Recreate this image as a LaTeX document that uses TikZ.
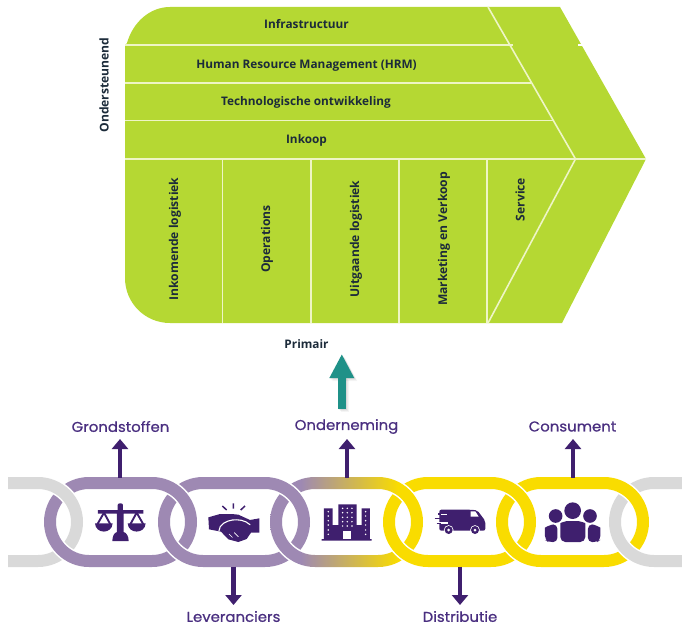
\documentclass[tikz,border=0pt]{standalone}
\usepackage{fontspec}
\usetikzlibrary{arrows.meta}
\newfontfamily\vcfont{Open Sans}
\newfontfamily\chainfont[FakeBold=0.8,FakeStretch=1.05]{Poppins}
\definecolor{vcgreen}{HTML}{B5D833}
\definecolor{vcline}{HTML}{EEF5C6}
\definecolor{vcink}{HTML}{1C2B3A}
\definecolor{linkpurple}{HTML}{9E89B3}
\definecolor{linkyellow}{HTML}{F9DC00}
\definecolor{linkgray}{HTML}{D9D9D9}
\definecolor{deeppurple}{HTML}{3F1F6E}
\definecolor{labelpurple}{HTML}{4A2F80}
\definecolor{tealarrow}{HTML}{1F9188}
\pgfdeclarehorizontalshading{linkgrad}{100bp}{color(0bp)=(linkpurple);color(35bp)=(linkpurple);color(67bp)=(linkyellow);color(100bp)=(linkyellow)}
\newcommand{\Ring}[3]{%
  \draw[white,line width=15pt,rounded corners=39pt] (#1,483) rectangle (#2,561);
  \path[even odd rule,#3] (#1-6,477) [rounded corners=45pt] rectangle (#2+6,567)
     (#1+6,489) [rounded corners=33pt] rectangle (#2-6,555);}
\newcommand{\RingTop}[3]{%
  \begin{scope}
    \clip (#2-45,470) rectangle (#2+9,522);
    \Ring{#1}{#2}{#3}
  \end{scope}}
\tikzset{
  vclabel/.style={font=\vcfont\bfseries\fontsize{11.8}{13}\selectfont,text=vcink,inner sep=0pt},
  vcside/.style={vclabel,font=\vcfont\bfseries\fontsize{12.1}{13}\selectfont,rotate=90},
  vcrule/.style={draw=vcline,line width=1.6pt},
  chainlabel/.style={font=\chainfont\fontsize{14.2}{16}\selectfont,text=labelpurple,inner sep=0pt},
  chainarrow/.style={draw=deeppurple,line width=4.6pt,-{Triangle[width=16pt,length=10pt]}},
  tealshaft/.style={line width=7.5pt,-{Triangle[width=23pt,length=24pt]}},
  icon/.style={fill=deeppurple,draw=none},
  iconline/.style={draw=deeppurple,line width=1.2pt},
  hole/.style={fill=white,draw=none},
}
\begin{document}
\begin{tikzpicture}[x=1pt,y=-1pt]
\useasboundingbox (0,0) rectangle (682,626);
% value chain shape
\fill[vcgreen] (125,45) -- (127,43) .. controls (133,22) and (150,7) .. (170,7) -- (560,7) -- (646,159)
   -- (562,323) -- (170,323) .. controls (145,323) and (125,303) .. (125,278) -- cycle;
\draw[vcrule] (125,45) -- (513,45);
\draw[vcrule] (125,83) -- (531,83);
\draw[vcrule] (125,120.5) -- (553,120.5);
\draw[vcrule] (125,159) -- (646,159);
\draw[vcrule] (488,7) -- (575.5,159) -- (488,323);
\draw[vcrule] (222.5,159) -- (222.5,323);
\draw[vcrule] (311,159) -- (311,323);
\draw[vcrule] (399,159) -- (399,323);
\draw[vcrule] (487,159) -- (487,323);
\draw[white,line width=1.2pt] (578,45) -- (583,45);
\node[vclabel] (infra) at (306.5,24) {Infrastructuur};
\node[vclabel] (hrm) at (306.5,65.5) {Human Resource Management (HRM)};
\node[vclabel] (tech) at (306,102.5) {Technologische ontwikkeling};
\node[vclabel] (inkoop) at (306.5,140) {Inkoop};
\node[vcside] (inkomend) at (175,239) {Inkomende logistiek};
\node[vcside] (operations) at (267,239) {Operations};
\node[vcside] (uitgaand) at (356,239) {Uitgaande logistiek};
\node[vcside] (marketing) at (444,239) {Marketing en Verkoop};
\node[vcside] (service) at (520,199.5) {Service};
\node[vcside] (onder) at (104,85) {Ondersteunend};
\node[vclabel] (primair) at (306.5,344) {Primair};
% teal arrow
\coordinate (tealfoot) at (341.8,409);
\coordinate (tealtip) at (341.8,354);
\foreach \d/\o in {3/0.04,2/0.05,1/0.07}
  \draw[tealshaft,draw=black,fill=black,opacity=\o] ([shift={(\d,\d)}]tealfoot) -- ([shift={(\d,\d)}]tealtip);
\draw[tealshaft,draw=tealarrow] (tealfoot) -- (tealtip);
% chain
\begin{scope}
\clip (8,470) rectangle (682,575);
\Ring{-64}{77}{fill=linkgray}
\Ring{50}{191}{fill=linkpurple}
\Ring{164}{304}{fill=linkpurple}
\Ring{276}{417}{shade,shading=linkgrad}
\Ring{389}{530}{fill=linkyellow}
\Ring{502}{643}{fill=linkyellow}
\Ring{615}{756}{fill=linkgray}
\RingTop{-64}{77}{fill=linkgray}
\RingTop{50}{191}{fill=linkpurple}
\RingTop{164}{304}{fill=linkpurple}
\RingTop{276}{417}{shade,shading=linkgrad}
\RingTop{389}{530}{fill=linkyellow}
\RingTop{502}{643}{fill=linkyellow}
\end{scope}
% labels and arrows
\node[chainlabel] (grond) at (120.5,426.5) {Grondstoffen};
\node[chainlabel] (onderneming) at (346.5,426.5) {Onderneming};
\node[chainlabel] (consument) at (572.5,426.5) {Consument};
\node[chainlabel] (lever) at (233.5,616.5) {Leveranciers};
\node[chainlabel] (distr) at (460,616.5) {Distributie};
\coordinate (gfoot) at (120,477.5); \coordinate (gtip) at (120,439);
\coordinate (ofoot) at (347,477.5); \coordinate (otip) at (347,439);
\coordinate (cfoot) at (573,477.5); \coordinate (ctip) at (573,439);
\coordinate (lfoot) at (233.5,566.5); \coordinate (ltip) at (233.5,605);
\coordinate (dfoot) at (460,566.5); \coordinate (dtip) at (460,605);
\draw[chainarrow] (gfoot) -- (gtip);
\draw[chainarrow] (ofoot) -- (otip);
\draw[chainarrow] (cfoot) -- (ctip);
\draw[chainarrow] (lfoot) -- (ltip);
\draw[chainarrow] (dfoot) -- (dtip);
% icon: scales
\begin{scope}[shift={(80,490)},x=0.3333pt,y=-0.3333pt]
\fill[icon] (113,60) -- (113,45) .. controls (113,38) and (129,38) .. (129,45) -- (129,60) -- (190,60) -- (190,71) -- (131,71) -- (131,126)
  .. controls (140,128) and (146,140) .. (146,153) -- (97,153) .. controls (97,140) and (102,128) .. (111,126) -- (111,71) -- (54,71) -- (54,60) -- cycle;
\draw[iconline,line width=1.9pt] (52,103) -- (72,68) -- (91,103);
\draw[iconline,line width=1.9pt] (151,103) -- (170,68) -- (190,103);
\fill[icon] (45,100) -- (98,100) .. controls (96,133) and (47,133) .. (45,100) -- cycle;
\fill[icon] (143,100) -- (197,100) .. controls (195,133) and (145,133) .. (143,100) -- cycle;
\end{scope}
% icon: handshake
\begin{scope}[shift={(195,490)},x=0.3333pt,y=-0.3333pt]
\fill[icon] (40,82) -- (75,72) -- (110,72) -- (130,74) -- (165,90) -- (193,85) -- (193,128) -- (168,128) -- (155,147)
  -- (130,156) -- (100,148) -- (78,125) -- (42,118) -- cycle;
\draw[white,line width=1.1pt,line cap=round] (72,122) .. controls (72,104) and (95,92) .. (112,90) .. controls (130,88) and (150,90) .. (165,104);
\draw[white,line width=0.7pt,line cap=round] (102,132) -- (112,142) (118,128) -- (130,140);
\draw[iconline,line width=1.5pt] (82,48) -- (95,60) (115,40) -- (115,56) (150,48) -- (137,60);
\end{scope}
% icon: building
\begin{scope}[shift={(195,490)},x=0.3333pt,y=-0.3333pt]
\fill[icon] (387,55) rectangle (413,147) (430,43) rectangle (485,147) (500,55) rectangle (525,147)
  (413,105) rectangle (430,147) (485,105) rectangle (500,147) (380,147) rectangle (530,152);
\foreach \y in {65,78,92,105,120,133} {\fill[hole] (400,\y) circle (2.5); \fill[hole] (512,\y) circle (2.5);}
\foreach \x in {443,457,471} \foreach \y in {55,68,82,95,108} \fill[hole] (\x,\y) circle (2.5);
\fill[hole] (445,122) rectangle (468,147);
\end{scope}
% icon: truck
\begin{scope}[shift={(420,490)},x=0.3333pt,y=-0.3333pt]
\fill[icon,rounded corners=2pt] (58,59) -- (150,59) -- (172,61) -- (196,93) -- (196,122) -- (58,122) -- cycle;
\fill[hole] (152,64) -- (166,64) -- (176,80) -- (152,80) -- cycle;
\draw[white,line width=1.1pt] (50,73) -- (80,73) (50,99) -- (85,99);
\draw[iconline,line width=1.5pt] (44,86) -- (62,86) (50,101) -- (62,101) (55,72) -- (62,72);
\fill[white] (86,120) circle (14.5) (165,120) circle (14.5);
\fill[icon] (86,120) circle (12) (165,120) circle (12);
\fill[hole] (86,120) circle (4.5) (165,120) circle (4.5);
\end{scope}
% icon: people
\begin{scope}[shift={(420,490)},x=0.3333pt,y=-0.3333pt]
\fill[icon] (458,62) circle (25) (407,78) circle (20.5) (510,78) circle (20.5);
\fill[icon,rounded corners=5pt] (421,156) -- (421,115) .. controls (421,98) and (440,93) .. (458,93) .. controls (476,93) and (496,98) .. (496,115) -- (496,156) -- cycle;
\fill[icon,rounded corners=4pt] (412,156) -- (385,156) -- (375,150) -- (375,125) .. controls (375,112) and (395,103) .. (412,104) -- cycle;
\fill[icon,rounded corners=4pt] (504,156) -- (532,156) -- (541,150) -- (541,125) .. controls (541,112) and (522,103) .. (504,104) -- cycle;
\end{scope}
\end{tikzpicture}
\end{document}
